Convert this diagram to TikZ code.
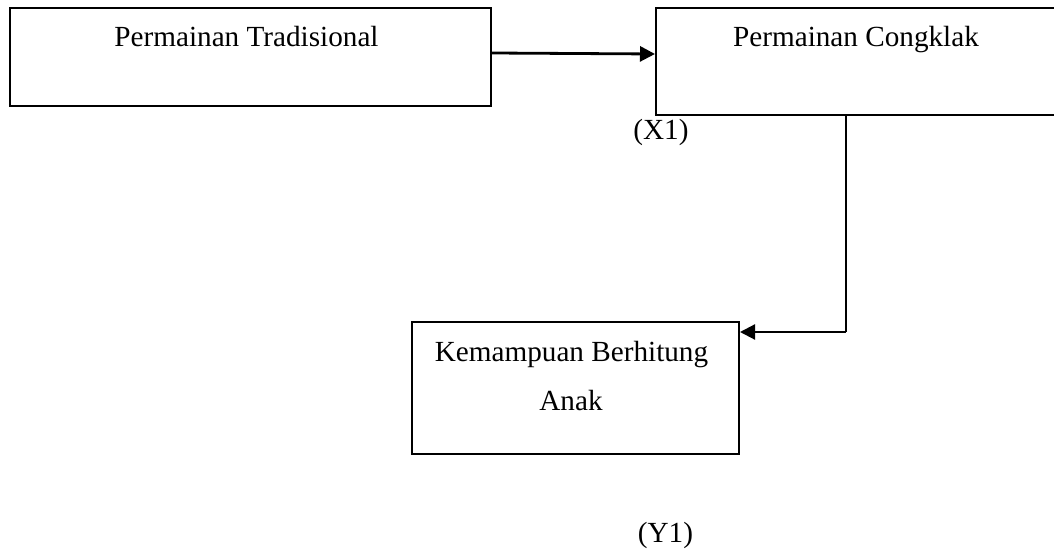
\documentclass[tikz,border=0pt]{standalone}
\usepackage{fontspec}
\setmainfont{Liberation Serif}
\usepackage{tikz}
\usetikzlibrary{arrows.meta}

\begin{document}
\begin{tikzpicture}[x=0.5pt, y=-0.5pt,
    box/.style={rectangle, draw, line width=1pt, inner sep=0pt},
    lbl/.style={font=\fontsize{14.6}{17.5}\selectfont, inner sep=0pt, anchor=base},
    arr/.style={-{Triangle[length=7.5pt, width=7.5pt]}}]
                    \useasboundingbox (0,0) rectangle (1054,550);
                    % Nodes
                    \node[box, minimum width=240.5pt, minimum height=49pt] (trad) at (250.5,57) {};
                    \node[box, minimum width=210pt, minimum height=53.5pt] (cong) at (866,61.5) {};
                    \node[box, minimum width=163.5pt, minimum height=66pt] (kem) at (575.5,388) {};
                    \node[lbl] (tradtxt) at (246.5,47) {Permainan Tradisional};
                    \node[lbl] (congtxt) at (856,47) {Permainan Congklak};
                    \node[lbl] (x1) at (661,140) {(X1)};
                    \node[lbl] (kemtxt) at (571.5,362) {Kemampuan Berhitung};
                    \node[lbl] (anaktxt) at (571,410) {Anak};
                    \node[lbl] (y1) at (665.5,542) {(Y1)};
                    \coordinate (bend) at (846,332);
                    % Edges
                    \draw[arr, line width=1.4pt] (trad.east |- 0,53) -- (cong.west |- 0,54);
                    \draw[line width=0.9pt] (cong.south -| bend) -- (bend);
                    \draw[arr, line width=1.1pt] (bend) -- (bend -| kem.east);
                \end{tikzpicture}
\end{document}
